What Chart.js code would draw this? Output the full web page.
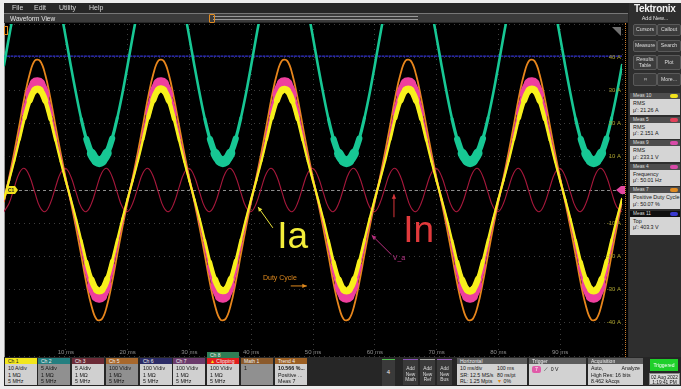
<!DOCTYPE html>
<html>
<head>
<meta charset="utf-8">
<script src="https://cdn.jsdelivr.net/npm/chart.js@4.4.1/dist/chart.umd.min.js"></script>
<style>
body { margin: 0; width: 681px; height: 389px; overflow: hidden; background: #ececec; position: relative;
       font-family: "Liberation Sans", Arial, sans-serif; }
.a { position: absolute; }
#frame { left: 4px; top: 3px; width: 677px; height: 383px; background: #262626; }
.menu { top: 4px; font-size: 7px; color: #d8d8d8; z-index: 2; }
#wvbar { left: 4px; top: 13px; height: 9px; background: #3b3b3b; border-top: 1px solid #777;
         font-size: 6.5px; line-height: 9px; color: #e4e4e4; padding-left: 6px; box-sizing: border-box; width: 624px; z-index: 2; }
#slider { left: 213px; top: 16px; width: 205px; height: 2px; border-top: 1px solid #9a9a9a; border-bottom: 1px solid #9a9a9a; z-index: 3; }
#thandle { left: 209px; top: 14px; width: 4px; height: 7px; border: 1px solid #e08a20; border-radius: 1px; z-index: 3; }
#plotbg { left: 4px; top: 23px; width: 624px; height: 334px; background: #000; border-left: 1px solid #9a9a9a; box-sizing: border-box; }
#rdot { left: 625px; top: 23px; height: 334px; border-left: 1px dotted #c97b2a; z-index: 2; }
#rpanel { left: 629px; top: 3px; width: 52px; height: 354px; background: #2e2e2e; z-index: 2; }
#logo { left: 634px; top: 3px; font-size: 10px; font-weight: bold; color: #f2f2f2; letter-spacing: -0.3px; z-index: 3; }
#addnew { left: 629px; top: 15px; width: 52px; text-align: center; font-size: 5.5px; color: #e0e0e0; z-index: 3; }
.btn { width: 22px; background: #3c3c3c; border: 1px solid #5a5a5a; border-radius: 2px; color: #dcdcdc;
       font-size: 5.2px; text-align: center; display: flex; align-items: center; justify-content: center; line-height: 5.5px; z-index: 3; }
.meas { left: 630px; width: 50px; z-index: 3; }
.mh { height: 6px; background: #4d4d4d; color: #dcdcdc; font-size: 4.8px; line-height: 6px; padding-left: 3px; position: relative; }
.mh i { position: absolute; right: 2px; top: 1px; width: 8px; height: 4px; border-radius: 2px; }
.mb { height: 15px; background: #d5d5d5; color: #151515; font-size: 5.4px; line-height: 6.6px; padding: 1px 2px 0 3px;
      white-space: nowrap; overflow: hidden; }
.ch { top: 358px; width: 32px; height: 27px; z-index: 3; }
.chh { height: 6px; font-size: 5px; line-height: 6px; padding-left: 3px; color: #f0f0f0; white-space: nowrap; }
.chb { height: 21px; background: #d0d0d0; color: #151515; font-size: 5.3px; line-height: 6.7px; padding-left: 3px; box-sizing: border-box; padding-top: 1px; white-space: nowrap; overflow: hidden; }
.dim { background: #909090; }
.box { top: 358px; height: 27px; z-index: 3; }
.bh { height: 6px; background: #5c5c5c; color: #eee; font-size: 5px; line-height: 6px; padding-left: 3px; }
.bb { height: 21px; background: #d2d2d2; color: #151515; font-size: 5.2px; line-height: 6.6px; padding: 1px 3px 0 3px; box-sizing: border-box; position: relative; white-space: nowrap; }
.addnew { top: 359px; width: 15px; height: 26px; background: #3a3a3a; color: #ddd; font-size: 4.8px; line-height: 5.5px;
          text-align: center; box-sizing: border-box; padding-top: 6px; z-index: 3; }
</style>
</head>
<body>
<div id="frame" class="a"></div>
<span class="a menu" style="left:12px">File</span>
<span class="a menu" style="left:34px">Edit</span>
<span class="a menu" style="left:59px">Utility</span>
<span class="a menu" style="left:89px">Help</span>
<div id="wvbar" class="a">Waveform View</div>
<div id="slider" class="a"></div>
<div id="thandle" class="a"></div>
<div id="plotbg" class="a"></div>
<div id="rdot" class="a"></div>

<div id="rpanel" class="a"></div>
<div id="logo" class="a">Tektronix</div>
<div id="addnew" class="a">Add New...</div>
<div class="a btn" style="left:633px;top:24px;height:10px">Cursors</div>
<div class="a btn" style="left:657px;top:24px;height:10px">Callout</div>
<div class="a btn" style="left:633px;top:40px;height:10px">Measure</div>
<div class="a btn" style="left:657px;top:40px;height:10px">Search</div>
<div class="a btn" style="left:633px;top:55px;height:13px">Results<br>Table</div>
<div class="a btn" style="left:657px;top:55px;height:13px">Plot</div>
<div class="a btn" style="left:633px;top:73px;height:11px">⌗</div>
<div class="a btn" style="left:657px;top:73px;height:11px">More...</div>

<div class="a meas" style="top:93px"><div class="mh">Meas 10<i style="background:#f2e21c"></i></div><div class="mb">RMS<br>μ': 21.26 A</div></div>
<div class="a meas" style="top:116.5px"><div class="mh">Meas 5<i style="background:#e2405a"></i></div><div class="mb">RMS<br>μ': 2.151 A</div></div>
<div class="a meas" style="top:140px"><div class="mh">Meas 9<i style="background:#d84aa8"></i></div><div class="mb">RMS<br>μ': 233.1 V</div></div>
<div class="a meas" style="top:163.5px"><div class="mh">Meas 4<i style="background:#d84aa8"></i></div><div class="mb">Frequency<br>μ': 50.01 Hz</div></div>
<div class="a meas" style="top:187px"><div class="mh">Meas 7<i style="background:#e08a20"></i></div><div class="mb">Positive Duty Cycle<br>μ': 50.07 %</div></div>
<div class="a meas" style="top:210.5px"><div class="mh" style="background:#101010">Meas 11<i style="background:#3a3ad0"></i></div><div class="mb" style="height:17px">Top<br>μ': 403.3 V</div></div>

<div class="a ch" style="left:5px"><div class="chh" style="background:#f2e61c;color:#222">Ch 1</div><div class="chb">10 A/div<br>1 MΩ<br>5 MHz</div></div>
<div class="a ch" style="left:38px"><div class="chh" style="background:#237f80">Ch 2</div><div class="chb dim">5 A/div<br>1 MΩ<br>5 MHz</div></div>
<div class="a ch" style="left:72px"><div class="chh" style="background:#6c2a36">Ch 3</div><div class="chb">5 A/div<br>1 MΩ<br>5 MHz</div></div>
<div class="a ch" style="left:106px"><div class="chh" style="background:#a8682c">Ch 5</div><div class="chb dim">100 V/div<br>1 MΩ<br>5 MHz</div></div>
<div class="a ch" style="left:140px"><div class="chh" style="background:#2b2b66">Ch 6</div><div class="chb">100 V/div<br>1 MΩ<br>5 MHz</div></div>
<div class="a ch" style="left:173px"><div class="chh" style="background:#6b3a6b">Ch 7</div><div class="chb">100 V/div<br>1 MΩ<br>5 MHz</div></div>
<div class="a ch" style="left:207px;top:352px;height:33px"><div class="chh" style="background:#2f7d55">Ch 8</div><div class="chh" style="background:#e21e1e"><span style="color:#f2e21c">▲</span> Clipping</div><div class="chb">100 V/div<br>1 MΩ<br>5 MHz</div></div>
<div class="a ch" style="left:241px"><div class="chh" style="background:#8b5a2b">Math 1</div><div class="chb dim">1</div></div>
<div class="a ch" style="left:275px"><div class="chh" style="background:#9c5f22">Trend 4</div><div class="chb"><b>10.566 %...</b><br>Positive ...<br>Meas 7</div></div>

<div class="a" style="left:382px;top:359px;width:13px;height:26px;background:#3a3a3a;border-top:1px solid #4fc24f;color:#eee;font-size:6px;text-align:center;line-height:25px;z-index:3">4</div>
<div class="a addnew" style="left:403px;border-top:1px solid #8a55b8">Add<br>New<br>Math</div>
<div class="a addnew" style="left:420px;border-top:1px solid #a8a8a8">Add<br>New<br>Ref</div>
<div class="a addnew" style="left:437px;border-top:1px solid #9a60c0">Add<br>New<br>Bus</div>

<div class="a box" style="left:457px;width:70px"><div class="bh">Horizontal</div>
  <div class="bb">10 ms/div<br>SR: 12.5 MS/s<br>RL: 1.25 Mpts
    <span class="a" style="left:40px;top:1px;line-height:6.6px">100 ms<br>80 ns/pt<br><span style="color:#e08a20">▼</span> 0%</span></div></div>
<div class="a box" style="left:529px;width:57px"><div class="bh">Trigger</div>
  <div class="bb"><span style="display:inline-block;background:#e05aa8;color:#fff;border-radius:2px;padding:0 3px;margin-top:1px">7</span> &nbsp;⟋ &nbsp;0 V</div></div>
<div class="a box" style="left:588px;width:55px"><div class="bh">Acquisition</div>
  <div class="bb">Auto,<span style="float:right">Analyze</span><br>High Res: 16 bits<br>8.462 kAcqs</div></div>
<div class="a" style="left:650px;top:359px;width:28px;height:12px;background:#1fcf2a;color:#fff;font-size:5px;line-height:12px;text-align:center;z-index:3">Triggered</div>
<div class="a" style="left:649px;top:373px;width:31px;height:12px;background:#d8d8d8;border:1px solid #888;box-sizing:border-box;color:#151515;font-size:4.8px;line-height:5px;text-align:center;padding-top:1px;z-index:3">02 Aug 2022<br>1:19:41 PM</div>

<canvas id="scope" class="a" width="681" height="389" style="left:0;top:0;z-index:1"></canvas>

<script>
// --- Развёртка: 10 ms/div, 10 делений ---
const timeMs = [
  0, 0.83, 1.67, 2.5, 3.33, 4.17, 5, 5.83, 6.67, 7.5, 8.33, 9.17,
  10, 10.83, 11.67, 12.5, 13.33, 14.17, 15, 15.83, 16.67, 17.5, 18.33, 19.17,
  20, 20.83, 21.67, 22.5, 23.33, 24.17, 25, 25.83, 26.67, 27.5, 28.33, 29.17,
  30, 30.83, 31.67, 32.5, 33.33, 34.17, 35, 35.83, 36.67, 37.5, 38.33, 39.17,
  40, 40.83, 41.67, 42.5, 43.33, 44.17, 45, 45.83, 46.67, 47.5, 48.33, 49.17,
  50, 50.83, 51.67, 52.5, 53.33, 54.17, 55, 55.83, 56.67, 57.5, 58.33, 59.17,
  60, 60.83, 61.67, 62.5, 63.33, 64.17, 65, 65.83, 66.67, 67.5, 68.33, 69.17,
  70, 70.83, 71.67, 72.5, 73.33, 74.17, 75, 75.83, 76.67, 77.5, 78.33, 79.17,
  80, 80.83, 81.67, 82.5, 83.33, 84.17, 85, 85.83, 86.67, 87.5, 88.33, 89.17,
  90, 90.83, 91.67, 92.5, 93.33, 94.17, 95, 95.83, 96.67, 97.5, 98.33, 99.17,
  100
];

// Ch1 — Ia (жёлтый), в делениях по 10 A
const ch1Ia = [
  -2.7, 2.9, 8.8, 15.2, 21.7, 27.0, 30.1, 30.1, 26.9, 21.4, 15.0, 8.6,
  2.7, -2.9, -8.8, -15.2, -21.7, -27.0, -30.1, -30.1, -26.9, -21.4, -15.0, -8.6,
  -2.7, 2.9, 8.8, 15.2, 21.8, 27.1, 30.2, 30.1, 26.9, 21.4, 15.0, 8.6,
  2.7, -2.9, -8.8, -15.2, -21.7, -27.0, -30.0, -30.1, -26.9, -21.4, -15.0, -8.6,
  -2.7, 2.9, 8.8, 15.2, 21.7, 27.0, 30.1, 30.0, 26.8, 21.4, 15.0, 8.6,
  2.7, -2.9, -8.8, -15.2, -21.7, -27.0, -30.1, -30.1, -26.9, -21.4, -15.0, -8.6,
  -2.7, 2.9, 8.8, 15.2, 21.7, 27.0, 30.1, 30.1, 26.9, 21.4, 15.0, 8.6,
  2.7, -2.9, -8.8, -15.2, -21.7, -27.1, -30.2, -30.1, -26.9, -21.4, -15.0, -8.6,
  -2.7, 2.9, 8.8, 15.2, 21.7, 27.0, 30.1, 30.1, 26.9, 21.4, 15.0, 8.6,
  2.7, -2.9, -8.8, -15.2, -21.7, -27.0, -30.1, -30.1, -26.9, -21.4, -15.0, -8.6,
  -2.7
];

// Ch7 — V_a (розовый)
const ch7Va = [
  -2.9, 3.1, 9.4, 16.2, 23.1, 28.8, 32.1, 32.0, 28.6, 22.8, 16.0, 9.2,
  2.9, -3.1, -9.4, -16.2, -23.1, -28.8, -32.1, -32.0, -28.6, -22.8, -16.0, -9.2,
  -2.9, 3.1, 9.4, 16.2, 23.1, 28.8, 32.1, 32.0, 28.6, 22.8, 16.0, 9.2,
  2.9, -3.1, -9.4, -16.2, -23.1, -28.8, -32.1, -32.0, -28.6, -22.8, -16.0, -9.2,
  -2.9, 3.1, 9.4, 16.2, 23.1, 28.8, 32.1, 32.0, 28.6, 22.8, 16.0, 9.2,
  2.9, -3.1, -9.4, -16.2, -23.1, -28.8, -32.1, -32.0, -28.6, -22.8, -16.0, -9.2,
  -2.9, 3.1, 9.4, 16.2, 23.1, 28.8, 32.1, 32.0, 28.6, 22.8, 16.0, 9.2,
  2.9, -3.1, -9.4, -16.2, -23.1, -28.8, -32.1, -32.0, -28.6, -22.8, -16.0, -9.2,
  -2.9, 3.1, 9.4, 16.2, 23.1, 28.8, 32.1, 32.0, 28.6, 22.8, 16.0, 9.2,
  2.9, -3.1, -9.4, -16.2, -23.1, -28.8, -32.1, -32.0, -28.6, -22.8, -16.0, -9.2,
  -2.9
];

// Ch5 (оранжевый)
const ch5 = [
  -3.5, 3.8, 11.5, 19.7, 28.1, 35.0, 39.0, 38.9, 34.8, 27.7, 19.4, 11.1,
  3.5, -3.8, -11.5, -19.7, -28.1, -35.0, -39.0, -38.9, -34.8, -27.7, -19.4, -11.1,
  -3.5, 3.8, 11.5, 19.7, 28.1, 35.0, 39.0, 38.9, 34.8, 27.7, 19.4, 11.1,
  3.5, -3.8, -11.5, -19.7, -28.1, -35.0, -39.0, -38.9, -34.8, -27.7, -19.4, -11.1,
  -3.5, 3.8, 11.5, 19.7, 28.1, 35.0, 39.0, 38.9, 34.8, 27.7, 19.4, 11.1,
  3.5, -3.8, -11.5, -19.7, -28.1, -35.0, -39.0, -38.9, -34.8, -27.7, -19.4, -11.1,
  -3.5, 3.8, 11.5, 19.7, 28.1, 35.0, 39.0, 38.9, 34.8, 27.7, 19.4, 11.1,
  3.5, -3.8, -11.5, -19.7, -28.1, -35.0, -39.0, -38.9, -34.8, -27.7, -19.4, -11.1,
  -3.5, 3.8, 11.5, 19.7, 28.1, 35.0, 39.0, 38.9, 34.8, 27.7, 19.4, 11.1,
  3.5, -3.8, -11.5, -19.7, -28.1, -35.0, -39.0, -38.9, -34.8, -27.7, -19.4, -11.1,
  -3.5
];

// Ch2 (зелёный), верх уходит за экран
const ch2 = [
  37.6, 46.3, 54.6, 62.1, 68.2, 72.5, 74.7, 74.7, 72.4, 68.0, 61.9, 54.3,
  45.9, 37.2, 28.9, 21.4, 15.3, 11.0, 8.8, 8.8, 11.1, 15.5, 21.7, 29.2,
  37.6, 46.3, 54.6, 62.1, 68.2, 72.5, 74.7, 74.7, 72.4, 68.0, 61.9, 54.3,
  45.9, 37.2, 28.9, 21.4, 15.3, 11.0, 8.8, 8.8, 11.1, 15.5, 21.7, 29.2,
  37.6, 46.3, 54.6, 62.1, 68.2, 72.5, 74.7, 74.7, 72.4, 68.0, 61.9, 54.3,
  45.9, 37.2, 28.9, 21.4, 15.3, 11.0, 8.8, 8.8, 11.1, 15.5, 21.7, 29.2,
  37.6, 46.3, 54.6, 62.1, 68.2, 72.5, 74.7, 74.7, 72.4, 68.0, 61.9, 54.3,
  45.9, 37.2, 28.9, 21.4, 15.3, 11.0, 8.8, 8.8, 11.1, 15.5, 21.7, 29.2,
  37.6, 46.3, 54.6, 62.1, 68.2, 72.5, 74.7, 74.7, 72.4, 68.0, 61.9, 54.3,
  45.9, 37.2, 28.9, 21.4, 15.3, 11.0, 8.8, 8.8, 11.1, 15.5, 21.7, 29.2,
  37.6
];

// Ch3 — In (тёмно-красный), 150 Гц
const ch3In = [
  -6.5, -4.0, 0.8, 5.2, 6.5, 4.0, -0.8, -5.2,
  -6.5, -4.0, 0.8, 5.2, 6.5, 4.0, -0.8, -5.2,
  -6.5, -4.0, 0.8, 5.2, 6.5, 4.0, -0.8, -5.2,
  -6.5, -4.0, 0.8, 5.2, 6.5, 4.0, -0.8, -5.2,
  -6.5, -4.0, 0.8, 5.2, 6.5, 4.0, -0.8, -5.2,
  -6.5, -4.0, 0.8, 5.2, 6.5, 4.0, -0.8, -5.2,
  -6.5, -4.0, 0.8, 5.2, 6.5, 4.0, -0.8, -5.2,
  -6.5, -4.0, 0.8, 5.2, 6.5, 4.0, -0.8, -5.2,
  -6.5, -4.0, 0.8, 5.2, 6.5, 4.0, -0.8, -5.2,
  -6.5, -4.0, 0.8, 5.2, 6.5, 4.0, -0.8, -5.2,
  -6.5, -4.0, 0.8, 5.2, 6.5, 4.0, -0.8, -5.2,
  -6.5, -4.0, 0.8, 5.2, 6.5, 4.0, -0.8, -5.2,
  -6.5, -4.0, 0.8, 5.2, 6.5, 4.0, -0.8, -5.2,
  -6.5, -4.0, 0.8, 5.2, 6.5, 4.0, -0.8, -5.2,
  -6.5, -4.0, 0.8, 5.2, 6.5, 4.0, -0.8, -5.2,
  -6.5
];

// Meas 11: Top = 403.3 V при 100 V/div -> 40.33 деления
const topLevel = 40.33;
const topSpan = [0, 100];

const yTicksHidden = [0, 50, -50];
const xTickUnit = 'ms';
const yTickUnit = 'A';

const pts = arr => arr.map((v, i) => ({ x: timeMs[i], y: v }));
const FONT = '"Liberation Sans", Arial, sans-serif';

function arrow(ctx, x1, y1, x2, y2, color) {
    // от (x1,y1) к острию (x2,y2)
    ctx.strokeStyle = color;
    ctx.fillStyle = color;
    ctx.lineWidth = 1;
    ctx.beginPath();
    ctx.moveTo(x1, y1);
    ctx.lineTo(x2, y2);
    ctx.stroke();
    const ang = Math.atan2(y2 - y1, x2 - x1);
    ctx.beginPath();
    ctx.moveTo(x2, y2);
    ctx.lineTo(x2 - 5 * Math.cos(ang - 0.45), y2 - 5 * Math.sin(ang - 0.45));
    ctx.lineTo(x2 - 5 * Math.cos(ang + 0.45), y2 - 5 * Math.sin(ang + 0.45));
    ctx.closePath();
    ctx.fill();
}

// --- Подписи, маркеры и надписи поверх графика ---
const scopeDecor = {
    id: 'scopeDecor',
    beforeDatasetsDraw(chart) {
        const { ctx, chartArea: a, scales: { y } } = chart;
        const y0 = y.getPixelForValue(0);
        ctx.save();
        ctx.strokeStyle = '#8c8c8c';
        ctx.lineWidth = 1;
        ctx.setLineDash([3, 3]);
        ctx.beginPath();
        ctx.moveTo(a.left + 15, y0 + 0.5);
        ctx.lineTo(a.right, y0 + 0.5);
        ctx.stroke();
        ctx.restore();
    },
    afterDatasetsDraw(chart) {
        const { ctx, chartArea: a, scales: { x, y } } = chart;
        ctx.save();

        // подписи оси Y справа
        ctx.font = '6px ' + FONT;
        ctx.fillStyle = '#a89f2c';
        ctx.textAlign = 'right';
        ctx.textBaseline = 'middle';
        y.ticks.forEach(t => {
            if (yTicksHidden.includes(t.value)) return;
            ctx.fillText(t.value + ' ' + yTickUnit, a.right - 1, y.getPixelForValue(t.value));
        });

        // подписи оси X внизу
        ctx.fillStyle = '#8e8e8e';
        ctx.textAlign = 'center';
        x.ticks.forEach(t => {
            if (t.value <= x.min || t.value >= x.max) return;
            ctx.fillText(t.value + ' ' + xTickUnit, x.getPixelForValue(t.value), a.bottom - 4);
        });

        // маркер C1 слева
        const y0 = y.getPixelForValue(0);
        ctx.fillStyle = '#f2e21c';
        ctx.beginPath();
        ctx.moveTo(a.left + 2, y0 - 4);
        ctx.lineTo(a.left + 11, y0 - 4);
        ctx.lineTo(a.left + 14, y0);
        ctx.lineTo(a.left + 11, y0 + 4);
        ctx.lineTo(a.left + 2, y0 + 4);
        ctx.closePath();
        ctx.fill();
        ctx.fillStyle = '#222';
        ctx.font = 'bold 5px ' + FONT;
        ctx.textAlign = 'left';
        ctx.fillText('C1', a.left + 4, y0 + 0.5);

        // маркер триггера справа
        ctx.fillStyle = '#e2479f';
        ctx.beginPath();
        ctx.moveTo(a.right - 6, y0);
        ctx.lineTo(a.right - 1, y0 - 4);
        ctx.lineTo(a.right + 3, y0 - 4);
        ctx.lineTo(a.right + 3, y0 + 4);
        ctx.lineTo(a.right - 1, y0 + 4);
        ctx.closePath();
        ctx.fill();

        // уголок справа сверху и метка слева сверху
        ctx.fillStyle = '#707070';
        ctx.beginPath();
        ctx.moveTo(a.right - 10, a.top + 3);
        ctx.lineTo(a.right - 1, a.top + 3);
        ctx.lineTo(a.right - 1, a.top + 12);
        ctx.closePath();
        ctx.fill();
        ctx.strokeStyle = '#e08a20';
        ctx.lineWidth = 1;
        ctx.strokeRect(a.left + 0.5, a.top + 2.5, 3, 8);

        // Ia
        arrow(ctx, x.getPixelForValue(43.5), y.getPixelForValue(-11.4),
              x.getPixelForValue(41.1), y.getPixelForValue(-5.1), '#e8e23a');
        ctx.font = '37px ' + FONT;
        ctx.textAlign = 'left';
        ctx.textBaseline = 'alphabetic';
        ctx.fillStyle = '#f4ee3a';
        ctx.fillText('Ia', x.getPixelForValue(44.2), y.getPixelForValue(-17.6));

        // In
        arrow(ctx, x.getPixelForValue(63.1), y.getPixelForValue(-8.2),
              x.getPixelForValue(63.1), y.getPixelForValue(-1.3), '#d8353a');
        ctx.fillStyle = '#e23a3c';
        ctx.fillText('In', x.getPixelForValue(64.6), y.getPixelForValue(-15.6));

        // V_a
        arrow(ctx, x.getPixelForValue(62.7), y.getPixelForValue(-19.5),
              x.getPixelForValue(59.5), y.getPixelForValue(-13.6), '#b8307f');
        ctx.font = '7px ' + FONT;
        ctx.fillStyle = '#c2388f';
        ctx.textBaseline = 'middle';
        ctx.fillText('V_a', x.getPixelForValue(62.9), y.getPixelForValue(-20.6));

        // Duty Cycle
        ctx.fillStyle = '#e08a1e';
        ctx.fillText('Duty Cycle', x.getPixelForValue(41.9), y.getPixelForValue(-26.5));
        arrow(ctx, x.getPixelForValue(46.4), y.getPixelForValue(-28.9),
              x.getPixelForValue(49.0), y.getPixelForValue(-28.9), '#e08a1e');

        ctx.restore();
    }
};

// шумовая полоса у пиков: толщина растёт к амплитуде
const ampWidth = (peak, base, extra) => ctx => {
    const v = Math.abs(ctx.p0.parsed.y + ctx.p1.parsed.y) / 2 / peak;
    return base + extra * Math.pow(Math.min(v, 1), 4);
};

new Chart(document.getElementById('scope'), {
    type: 'line',
    data: {
        datasets: [
            { label: 'Ch1 Ia', data: pts(ch1Ia), borderColor: '#f7f01c', borderWidth: 2.2,
              segment: { borderWidth: ampWidth(30.1, 2.2, 5) }, order: 1 },
            { label: 'Ch7 V_a', data: pts(ch7Va), borderColor: '#ef3f9e', borderWidth: 2.2,
              segment: { borderWidth: ampWidth(32.1, 2.2, 8.5) }, order: 2 },
            { label: 'Ch5', data: pts(ch5), borderColor: '#e8861c', borderWidth: 1.8, order: 3 },
            { label: 'Ch2', data: pts(ch2), borderColor: '#17c794', borderWidth: 2.6,
              segment: { borderWidth: ctx => {
                  const m = (ctx.p0.parsed.y + ctx.p1.parsed.y) / 2;
                  const r = Math.max(0, Math.min(1, (22 - m) / 13));
                  return 2.6 + 8 * r * r;
              } }, order: 4 },
            { label: 'Ch3 In', data: pts(ch3In), borderColor: '#a8183c', borderWidth: 1.1, order: 5 },
            { label: 'Meas 11 Top', data: topSpan.map(t => ({ x: t, y: topLevel })), borderColor: '#3434d4',
              borderWidth: 1.2, borderDash: [2, 1.5], tension: 0, order: 6 }
        ]
    },
    options: {
        responsive: false,
        animation: false,
        events: [],
        layout: { padding: { left: 4, top: 24, right: 59, bottom: 33 } },
        elements: {
            point: { radius: 0 },
            line: { tension: 0.4, borderCapStyle: 'round', borderJoinStyle: 'round' }
        },
        datasets: { line: { clip: 0 } },
        plugins: { legend: { display: false }, tooltip: { enabled: false } },
        scales: {
            x: {
                type: 'linear', min: 0, max: 100,
                ticks: { stepSize: 10, display: false },
                grid: { color: 'rgba(150,150,150,0.4)', drawTicks: false },
                border: { display: false, dash: [1, 4] }
            },
            y: {
                type: 'linear', min: -50, max: 50,
                ticks: { stepSize: 10, display: false },
                grid: { color: 'rgba(150,150,150,0.4)', drawTicks: false },
                border: { display: false, dash: [1, 4] }
            }
        }
    },
    plugins: [scopeDecor]
});
</script>
</body>
</html>
